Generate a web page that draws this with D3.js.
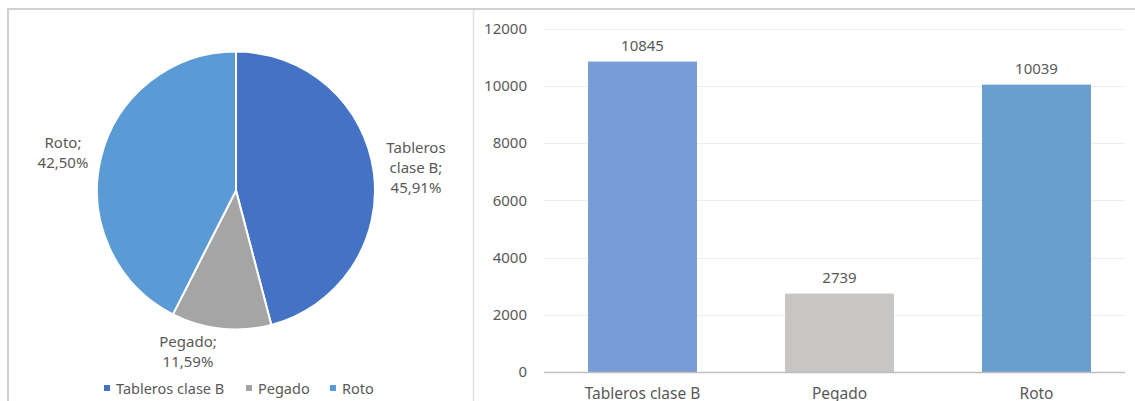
<!DOCTYPE html>
<html>
<head>
<meta charset="utf-8">
<script src="https://cdn.jsdelivr.net/npm/d3@7"></script>
<style>
  html, body { margin: 0; padding: 0; background: #fff; }
  svg { display: block; font-family: "Noto Sans", "Open Sans", sans-serif; }
</style>
</head>
<body>
<svg id="chart" width="1135" height="401"></svg>
<script>
// Defect categories and counts
const categories = ["Tableros clase B", "Pegado", "Roto"];
const counts = [10845, 2739, 10039];
const pieLabels = ["45,91%", "11,59%", "42,50%"];
const pieColors = ["#4472C4", "#A5A5A5", "#5B9BD5"];
const barColors = ["#7A9CD6", "#C7C6C4", "#699FCF"];
const yTicks = [0, 2000, 4000, 6000, 8000, 10000, 12000];

const svg = d3.select("#chart");
const textColor = "#595959";
const fontSize = "15px";

// Panel frames
svg.append("rect").attr("x", 8).attr("y", 9).attr("width", 1135).attr("height", 400)
  .attr("fill", "none").attr("stroke", "#d0d0d0").attr("stroke-width", 2);
svg.append("line").attr("x1", 473.5).attr("x2", 473.5).attr("y1", 10).attr("y2", 401)
  .attr("stroke", "#e2e2e2").attr("stroke-width", 1.5);

// ---- Pie chart ----
const cx = 236, cy = 190.5, r = 139;
const pie = d3.pie().sort(null).value(d => d)(counts);
const arc = d3.arc().innerRadius(0).outerRadius(r);
const pg = svg.append("g").attr("transform", `translate(${cx},${cy})`);
pg.selectAll("path").data(pie).join("path")
  .attr("d", arc)
  .attr("fill", (d, i) => pieColors[i])
  .attr("stroke", "#fff").attr("stroke-width", 2);

// Pie data labels (category; percentage)
const labelLines = [
  { lines: ["Tableros", "clase B;", pieLabels[0]], x: 416, y: 153 },
  { lines: ["Pegado;", pieLabels[1]], x: 188, y: 347 },
  { lines: ["Roto;", pieLabels[2]], x: 63, y: 148 }
];
labelLines.forEach(l => {
  const t = svg.append("text").attr("x", l.x).attr("y", l.y)
    .attr("text-anchor", "middle").attr("fill", textColor).style("font-size", fontSize);
  l.lines.forEach((s, i) => t.append("tspan").attr("x", l.x).attr("dy", i === 0 ? 0 : 20).text(s));
});

// Legend
const legendX = [104, 246, 330];
const lg = svg.append("g");
categories.forEach((c, i) => {
  lg.append("rect").attr("x", legendX[i]).attr("y", 385).attr("width", 6).attr("height", 6).attr("fill", pieColors[i]);
  lg.append("text").attr("x", legendX[i] + 12).attr("y", 394).attr("fill", textColor)
    .style("font-size", "14.5px").text(c);
});

// ---- Bar chart ----
const x = d3.scaleBand().domain(categories).range([544, 1135]).paddingInner(0.447).paddingOuter(0.2235);
const y = d3.scaleLinear().domain([0, 12000]).range([372, 28.5]);

const bg = svg.append("g");
bg.selectAll("line.grid").data(yTicks.filter(d => d > 0)).join("line")
  .attr("class", "grid")
  .attr("x1", 544).attr("x2", 1125)
  .attr("y1", d => Math.round(y(d)) + 0.5).attr("y2", d => Math.round(y(d)) + 0.5)
  .attr("stroke", "#eeeeee").attr("stroke-width", 1);

const yAxis = d3.axisLeft(y).tickValues(yTicks).tickSize(0).tickPadding(0).tickFormat(d3.format("d"));
const ya = bg.append("g").attr("transform", "translate(527,0)").call(yAxis);
ya.select(".domain").remove();
ya.selectAll("text").attr("fill", textColor).style("font-size", fontSize)
  .style("font-family", "'Noto Sans', 'Open Sans', sans-serif");

bg.selectAll("rect.bar").data(counts).join("rect")
  .attr("class", "bar")
  .attr("x", (d, i) => x(categories[i]))
  .attr("width", x.bandwidth())
  .attr("y", d => y(d))
  .attr("height", d => y(0) - y(d))
  .attr("fill", (d, i) => barColors[i]);

// Baseline
bg.append("line").attr("x1", 544).attr("x2", 1125).attr("y1", 372.5).attr("y2", 372.5)
  .attr("stroke", "#bfbfbf").attr("stroke-width", 1.5);

// Value labels
bg.selectAll("text.val").data(counts).join("text")
  .attr("class", "val")
  .attr("x", (d, i) => x(categories[i]) + x.bandwidth() / 2)
  .attr("y", d => y(d) - 11)
  .attr("text-anchor", "middle").attr("fill", textColor).style("font-size", fontSize)
  .text(d => d);

// Category labels
const xAxis = d3.axisBottom(x).tickSize(0).tickPadding(0);
const xa = bg.append("g").attr("transform", "translate(0,388)").call(xAxis);
xa.select(".domain").remove();
xa.selectAll("text").attr("fill", textColor).style("font-size", "15.5px")
  .style("font-family", "'Noto Sans', 'Open Sans', sans-serif");
</script>
</body>
</html>
